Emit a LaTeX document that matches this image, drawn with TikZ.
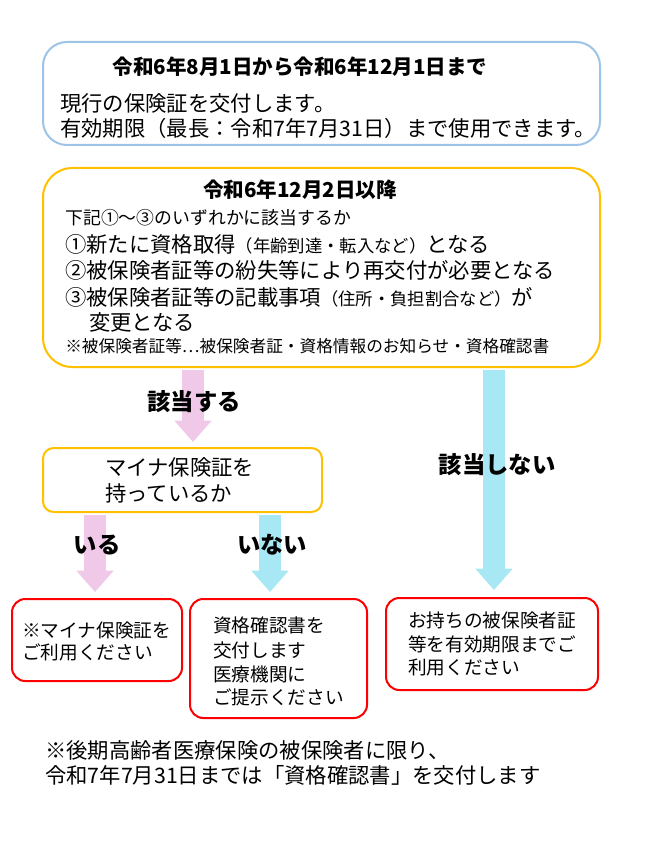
\documentclass[tikz,border=0pt]{standalone}
\usepackage{fontspec}
\setmainfont{Noto Sans CJK JP}
\usetikzlibrary{arrows.meta}
\definecolor{bl}{HTML}{9DC3E6}
\definecolor{gd}{HTML}{FFC000}
\definecolor{pk}{HTML}{F0C8E8}
\definecolor{cy}{HTML}{A8E8F4}
\definecolor{rd}{HTML}{FF0000}
\begin{document}
\begin{tikzpicture}[x=0.75pt,y=-0.75pt,
  blk/.style={-{Triangle[length=16pt,width=27pt]},line width=16pt},
  t/.style={anchor=west,inner sep=0pt,font=\fontsize{16}{16}\selectfont},
  s/.style={anchor=west,inner sep=0pt,font=\fontsize{14}{14}\selectfont},
  bt/.style={inner sep=0pt,font=\fontsize{15.4}{16}\selectfont\bfseries},
  lb/.style={inner sep=0pt,font=\fontsize{17.5}{18}\selectfont\bfseries},
  box/.style={draw,line width=1.5pt,rounded corners=#1}]
\useasboundingbox (0,0) rectangle (650,866);
\draw[box=18pt,bl] (43,42) rectangle (600,145);
\node[bt] at (300,67) {令和6年8月1日から令和6年12月1日まで};
\node[t] at (60,103) {現行の保険証を交付します。};
\node[t] at (60,128) {有効期限（最長：令和7年7月31日）まで使用できます。};
\draw[box=22pt,gd] (43,168) rectangle (600,367);
\node[bt] at (300,190) {令和6年12月2日以降};
\node[anchor=west,inner sep=0pt,font=\fontsize{13.4}{14}\selectfont] at (65,218) {下記①～③のいずれかに該当するか};
\node[t] at (65,244) {①新たに資格取得{\fontsize{13}{13}\selectfont（年齢到達・転入など）}となる};
\node[t] at (65,270) {②被保険者証等の紛失等により再交付が必要となる};
\node[t] at (65,297) {③被保険者証等の記載事項{\fontsize{13}{13}\selectfont（住所・負担割合など）}が};
\node[t] at (89,322) {変更となる};
\node[anchor=west,inner sep=0pt,font=\fontsize{12.5}{13}\selectfont] at (65,346) {※被保険者証等…被保険者証・資格情報のお知らせ・資格確認書};
\coordinate (p1s) at (193,370); \coordinate (p1e) at (193,442);
\coordinate (c1s) at (494,370); \coordinate (c1e) at (494,590);
\draw[blk,pk] (p1s) -- (p1e);
\draw[blk,cy] (c1s) -- (c1e);
\node[lb] at (194,402) {該当する};
\node[lb] at (497,465) {該当しない};
\draw[box=8pt,gd] (43,448) rectangle (322,512);
\node[t] at (105,467) {マイナ保険証を};
\node[t] at (105,493) {持っているか};
\coordinate (p2s) at (95,515); \coordinate (p2e) at (95,592);
\coordinate (c2s) at (270,515); \coordinate (c2e) at (270,592);
\draw[blk,pk] (p2s) -- (p2e);
\draw[blk,cy] (c2s) -- (c2e);
\node[lb] at (97,545) {いる};
\node[lb] at (272,545) {いない};
\draw[box=10pt,rd] (12,599) rectangle (182,681);
\node[s] at (22,630) {※マイナ保険証を};
\node[s] at (22,652) {ご利用ください};
\draw[box=10pt,rd] (190,599) rectangle (367,718);
\node[s] at (213,625) {資格確認書を};
\node[s] at (213,650) {交付します};
\node[s] at (213,674) {医療機関に};
\node[s] at (213,697) {ご提示ください};
\draw[box=10pt,rd] (386,598) rectangle (598,690);
\node[s] at (408,620) {お持ちの被保険者証};
\node[s] at (408,644) {等を有効期限までご};
\node[s] at (408,668) {利用ください};
\node[t] at (45,750) {※後期高齢者医療保険の被保険者に限り、};
\node[t] at (45,775) {令和7年7月31日までは「資格確認書」を交付します};
\end{tikzpicture}
\end{document}
